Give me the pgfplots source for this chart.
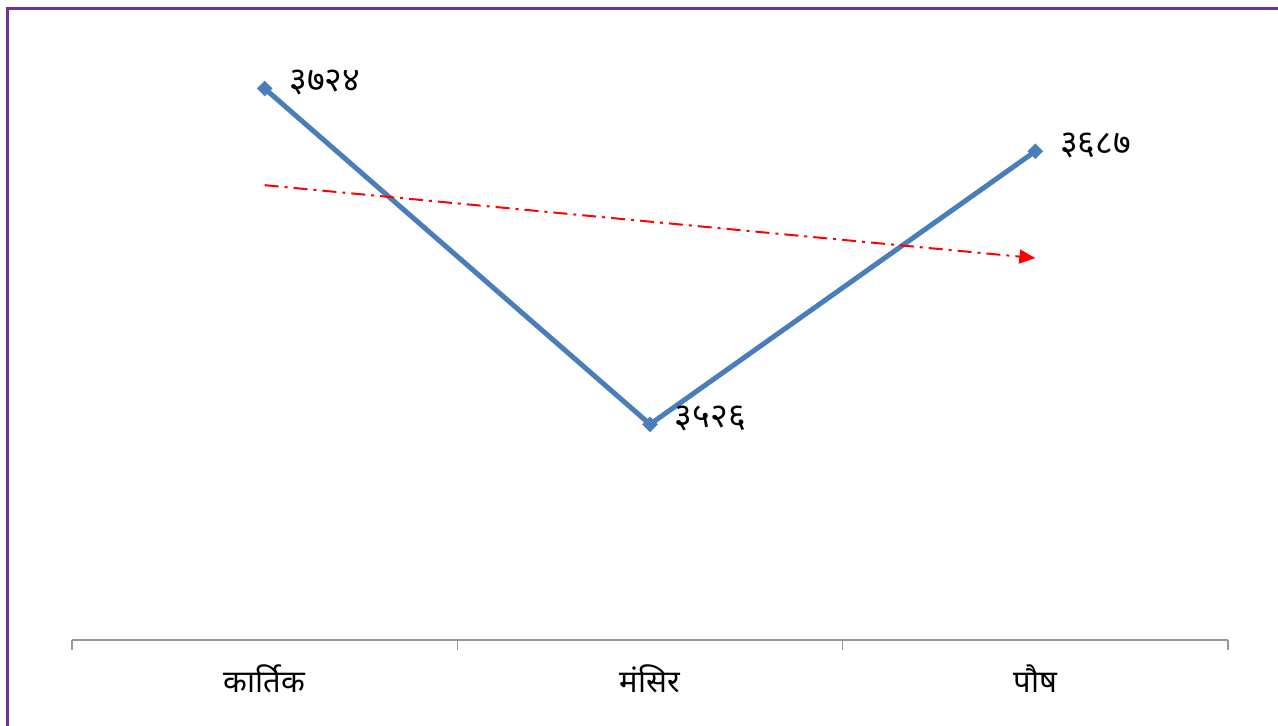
\documentclass[border=0pt]{standalone}
\usepackage{pgfplots}
\pgfplotsset{compat=1.18}
\usepackage{fontspec}
\usetikzlibrary{arrows.meta}
\newfontfamily\deva[Script=Devanagari]{Noto Sans}
\definecolor{lineblue}{RGB}{74,126,187}
\definecolor{framepurple}{RGB}{112,48,160}
\definecolor{axisgray}{RGB}{150,150,150}

\begin{document}
\begin{tikzpicture}
	\useasboundingbox (0,0) rectangle (639pt,362.5pt);
	% frame of the slide, only its top and left edges are in view
	\draw[framepurple, line width=1.5pt] (3.5pt,-2pt) -- (3.5pt,358pt) -- (645pt,358pt);
	\begin{axis}[
		at={(36pt,42.5pt)}, anchor=south west,
		scale only axis,
		width=578pt, height=310pt,
		xmin=0, xmax=3,
		ymin=3398.8, ymax=3764.4,
		hide y axis,
		axis x line*=bottom,
		x axis line style={axisgray, line width=0.8pt, -},
		xtick={0,1,2,3},
		xticklabels={},
		tick align=outside,
		major tick length=5pt,
		tick style={axisgray, line width=0.8pt},
		extra x ticks={0.5,1.5,2.5},
		extra x tick labels={कार्तिक,मंसिर,पौष},
		extra x tick style={major tick length=0pt,
			tick label style={font=\deva\fontsize{15.5}{18}\selectfont, yshift=-9pt}},
		clip=false,
	]
	\addplot [
		color=lineblue,
		line width=2.5pt,
		mark=square*,
		mark size=2.6pt,
		mark options={solid, rotate=45, line width=0.3pt, fill=lineblue},
		nodes near coords,
		point meta=explicit symbolic,
		every node near coord/.append style={font=\deva\fontsize{17}{19}\selectfont, black, anchor=west, xshift=9pt, yshift=3pt},
	]
	coordinates {
		(0.5,3724) [३७२४]
		(1.5,3526) [३५२६]
		(2.5,3687) [३६८७]
	};
	% linear trend line
	\addplot [
		color=red,
		line width=1pt,
		dash pattern=on 7pt off 3pt on 1.5pt off 3pt,
		-{Triangle[length=8pt,width=7pt]},
	]
	coordinates {(0.5,3667) (2.5,3624)};
	\end{axis}
\end{tikzpicture}
\end{document}
